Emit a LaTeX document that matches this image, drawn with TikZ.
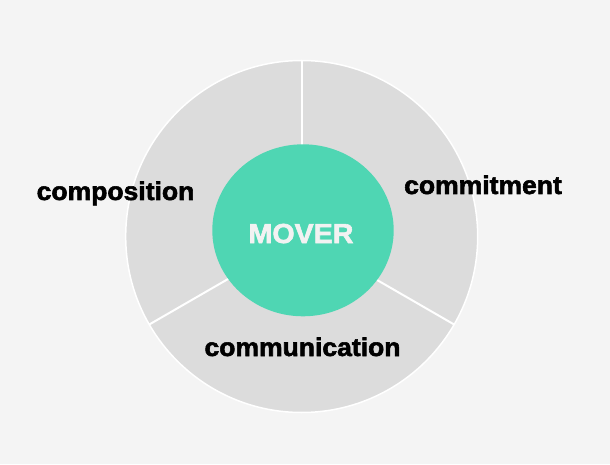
\documentclass[tikz,border=0pt]{standalone}
\usepackage{fontspec}
\usetikzlibrary{calc,shapes.geometric}
\newfontfamily\lblfont{Liberation Sans}[BoldFeatures={FakeBold=2.2,FakeStretch=1.04}]
\definecolor{bgcol}{HTML}{F4F4F4}
\definecolor{segcol}{HTML}{DCDCDC}
\definecolor{hubcol}{HTML}{4FD6B3}
\definecolor{hubtext}{HTML}{F2F2F2}
\tikzset{
  seglabel/.style={font=\lblfont\bfseries\fontsize{25.5}{25.5}\selectfont, text=black, inner sep=0pt, anchor=base},
  hublabel/.style={font=\lblfont\bfseries\fontsize{27.5}{27.5}\selectfont, text=hubtext, inner sep=0pt, anchor=base},
  divider/.style={draw=white, line width=2pt}
}
\begin{document}
\begin{tikzpicture}[x=1pt,y=1pt]
  % canvas
  \fill[bgcol] (0,0) rectangle (610,464);
  \useasboundingbox (0,0) rectangle (610,464);
  \coordinate (c) at (301.7,227.5);
  % outer ring of three segments
  \fill[segcol, draw=white, line width=1.5pt] (c) circle[radius=176];
  \coordinate (t1) at ($(c)+(90:176)$);
  \coordinate (t2) at ($(c)+(210:176)$);
  \coordinate (t3) at ($(c)+(330:176)$);
  \draw[divider] (c) -- (t1);
  \draw[divider] (c) -- (t2);
  \draw[divider] (c) -- (t3);
  % central hub
  \node[ellipse, fill=hubcol, minimum width=181.4, minimum height=172, inner sep=0pt] (hub) at (303,233.7) {};
  \node[hublabel] (mover) at (301,221) {MOVER};
  % segment labels
  \node[seglabel] (composition) at (115.5,264) {composition};
  \node[seglabel] (commitment) at (483,270) {commitment};
  \node[seglabel] (communication) at (302.5,108) {communication};
\end{tikzpicture}
\end{document}
